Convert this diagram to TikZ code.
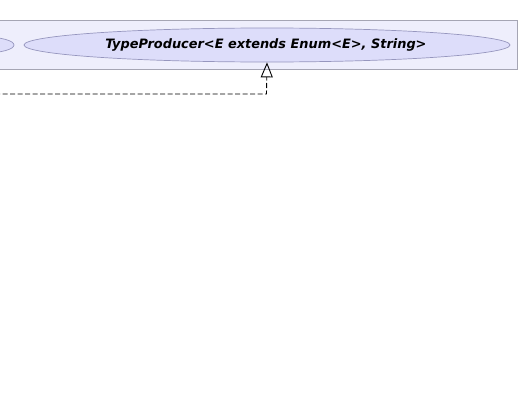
\documentclass[tikz,border=0pt]{standalone}
\usepackage{fontspec}
\setmainfont{DejaVu Sans}
\usetikzlibrary{shapes.geometric,arrows.meta}
\definecolor{pkgfill}{RGB}{238,238,252}
\definecolor{pkgdraw}{RGB}{165,165,180}
\definecolor{clsfill}{RGB}{221,221,250}
\definecolor{clsdraw}{RGB}{150,150,190}
\begin{document}
\begin{tikzpicture}[x=1pt,y=-1pt,
  pkg/.style={draw=pkgdraw, fill=pkgfill, line width=1pt},
  cls/.style={ellipse, draw=clsdraw, fill=clsfill, line width=0.7pt, inner sep=0pt},
  lbl/.style={font=\fontsize{12.9}{15}\selectfont\bfseries\itshape, text=black},
  dep/.style={dashed, dash pattern=on 5pt off 2.5pt, line width=0.9pt, -{Triangle[open, length=15pt, width=12pt, line width=0.9pt]}}
]
\useasboundingbox (0,0) rectangle (520,415);
\draw[pkg] (-10,20) rectangle (517,69);
\node[cls, minimum width=486pt, minimum height=34pt] (tp) at (267,45) {};
\node[lbl] (tpl) at (266,45) {TypeProducer<E extends Enum<E>, String>};
\node[cls, minimum width=60pt, minimum height=16pt] (left) at (-16,45) {};
\coordinate (free) at (-5,94);
\coordinate (bend) at (266.5,94);
\draw[dep] (free) -- (bend) -- (tp.south);
\end{tikzpicture}
\end{document}
